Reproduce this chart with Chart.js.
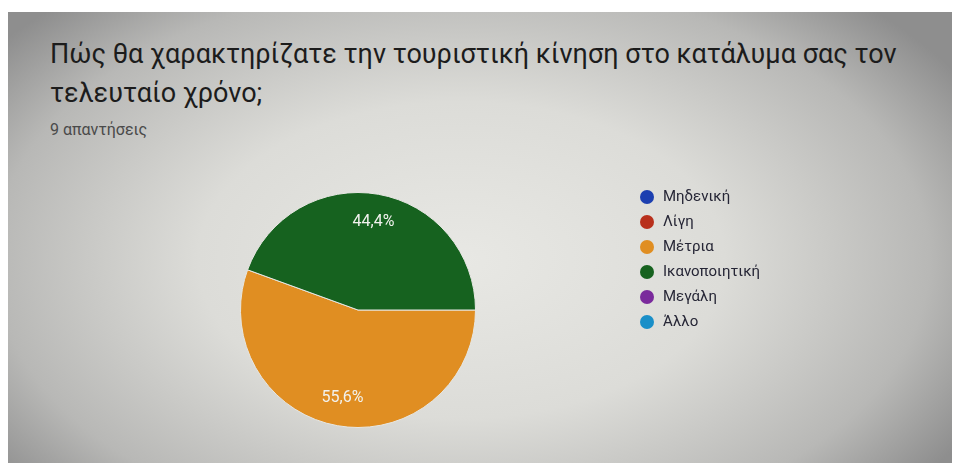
<!DOCTYPE html>
<html lang="el">
<head>
<meta charset="utf-8">
<script src="https://cdn.jsdelivr.net/npm/chart.js@4"></script>
<style>
  html, body { margin: 0; padding: 0; background: #fff; }
  #card {
    position: absolute; left: 8px; top: 12px; width: 944px; height: 451px;
    background: radial-gradient(ellipse 62% 78% at 48% 55%, #e8e8e4 0%, #dcdcd8 45%, #b8b8b6 80%, #8e8e8e 100%);
    overflow: hidden;
  }
  .title {
    position: absolute; left: 42px; font-family: Roboto, sans-serif;
    font-size: 27px; color: #1c1c1c; white-space: nowrap;
  }
  #sub {
    position: absolute; left: 42px; top: 108px; font-family: Roboto, sans-serif;
    font-size: 16px; color: #4a4a4a;
  }
  #pie { position: absolute; left: -8px; top: -12px; }
</style>
</head>
<body>
<div id="card">
  <div class="title" style="top:26px">Πώς θα χαρακτηρίζατε την τουριστική κίνηση στο κατάλυμα σας τον</div>
  <div class="title" style="top:65px">τελευταίο χρόνο;</div>
  <div id="sub">9 απαντήσεις</div>
  <canvas id="pie" width="953" height="463"></canvas>
</div>
<script>
const answers = ["Μηδενική", "Λίγη", "Μέτρια", "Ικανοποιητική", "Μεγάλη", "Άλλο"];
const counts = [0, 0, 5, 4, 0, 0];
const sliceColors = ["#1c3fb0", "#b8301c", "#e08e22", "#16621f", "#7a2a9c", "#1a8fc8"];

// percentage labels drawn inside each slice, Google-style "55,6%"
const sliceLabels = {
  id: "sliceLabels",
  afterDatasetsDraw(chart) {
    const ctx = chart.ctx;
    const total = counts.reduce((a, b) => a + b, 0);
    const meta = chart.getDatasetMeta(0);
    ctx.save();
    ctx.font = "16px Roboto, sans-serif";
    ctx.fillStyle = "#f2f2ee";
    ctx.textAlign = "center";
    ctx.textBaseline = "middle";
    meta.data.forEach((arc, i) => {
      if (!counts[i]) return;
      const mid = (arc.startAngle + arc.endAngle) / 2;
      const r = arc.outerRadius * 0.76;
      const pct = (counts[i] / total * 100).toFixed(1).replace(".", ",") + "%";
      ctx.fillText(pct, arc.x + Math.cos(mid) * r, arc.y + Math.sin(mid) * r);
    });
    ctx.restore();
  }
};

// legend column on the right with round markers
const sideLegend = {
  id: "sideLegend",
  afterDraw(chart) {
    const ctx = chart.ctx;
    ctx.save();
    ctx.font = "15px Roboto, sans-serif";
    ctx.textBaseline = "middle";
    answers.forEach((name, i) => {
      const y = 197 + i * 25;
      ctx.beginPath();
      ctx.arc(647, y, 7, 0, Math.PI * 2);
      ctx.fillStyle = sliceColors[i];
      ctx.fill();
      ctx.fillStyle = "#262636";
      ctx.fillText(name, 663, y);
    });
    ctx.restore();
  }
};

new Chart(document.getElementById("pie"), {
  type: "pie",
  data: {
    labels: answers,
    datasets: [{
      data: counts,
      backgroundColor: sliceColors,
      borderColor: "#e6e6e2",
      borderWidth: 1
    }]
  },
  options: {
    responsive: false,
    animation: false,
    rotation: 90,
    layout: { padding: { left: 240, top: 192, right: 477, bottom: 35 } },
    plugins: {
      legend: { display: false },
      tooltip: { enabled: false }
    }
  },
  plugins: [sliceLabels, sideLegend]
});
</script>
</body>
</html>
